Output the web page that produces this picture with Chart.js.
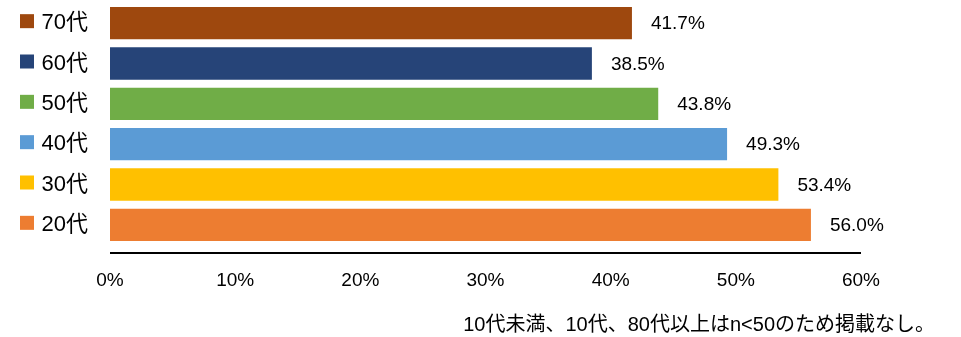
<!DOCTYPE html>
<html>
<head>
<meta charset="utf-8">
<script src="https://cdn.jsdelivr.net/npm/chart.js@4"></script>
<style>
  html, body { margin: 0; padding: 0; background: #fff; }
  #wrap { width: 961px; height: 337px; position: relative; }
</style>
</head>
<body>
<div id="wrap"><canvas id="chart"></canvas></div>
<script>
const ageGroups = ['70代', '60代', '50代', '40代', '30代', '20代'];
const rates = [41.7, 38.5, 43.8, 49.3, 53.4, 56.0];
const barColors = ['#9E480E', '#264478', '#70AD47', '#5B9BD5', '#FFC000', '#ED7D31'];
const xTicks = [0, 10, 20, 30, 40, 50, 60];
const note = '10代未満、10代、80代以上はn<50のため掲載なし。';

const FONT = '"Liberation Sans", Arial, "Noto Sans CJK JP", sans-serif';

// colored squares in front of the category labels
const squaresPlugin = {
  id: 'squares',
  afterDraw(chart) {
    const ctx = chart.ctx;
    const y = chart.scales.y;
    ageGroups.forEach((g, i) => {
      const cy = y.getPixelForValue(i);
      ctx.fillStyle = barColors[i];
      ctx.fillRect(20, cy - 9, 14, 14);
    });
  }
};

// value labels to the right of each bar
const valueLabels = {
  id: 'valueLabels',
  afterDatasetsDraw(chart) {
    const ctx = chart.ctx;
    const meta = chart.getDatasetMeta(0);
    ctx.save();
    ctx.font = '19px ' + FONT;
    ctx.fillStyle = '#000';
    ctx.textAlign = 'left';
    ctx.textBaseline = 'middle';
    meta.data.forEach((bar, i) => {
      ctx.fillText(rates[i].toFixed(1) + '%', bar.x + 19, bar.y + 1);
    });
    ctx.restore();
  }
};

// axis line just below the bars, and the footnote
const axisAndNote = {
  id: 'axisAndNote',
  afterDraw(chart) {
    const ctx = chart.ctx;
    const x = chart.scales.x;
    const area = chart.chartArea;
    ctx.save();
    ctx.strokeStyle = '#000';
    ctx.lineWidth = 2;
    ctx.beginPath();
    ctx.moveTo(x.getPixelForValue(0), area.bottom + 8);
    ctx.lineTo(x.getPixelForValue(60), area.bottom + 8);
    ctx.stroke();
    ctx.font = '20px ' + FONT;
    ctx.fillStyle = '#000';
    ctx.textAlign = 'right';
    ctx.textBaseline = 'middle';
    ctx.fillText(note, 935, 325);
    ctx.restore();
  }
};

new Chart(document.getElementById('chart'), {
  type: 'bar',
  data: {
    labels: ageGroups,
    datasets: [{
      data: rates,
      backgroundColor: barColors,
      borderWidth: 0,
      categoryPercentage: 0.8,
      barPercentage: 1.0
    }]
  },
  options: {
    indexAxis: 'y',
    responsive: true,
    maintainAspectRatio: false,
    animation: false,
    layout: { padding: { top: 3, left: 0, right: 100, bottom: 42 } },
    scales: {
      x: {
        min: 0,
        max: 60,
        afterBuildTicks: (scale) => { scale.ticks = xTicks.map((v) => ({ value: v })); },
        afterFit: (scale) => { scale.height = 50; scale.paddingLeft = 0; scale.paddingRight = 0; },
        grid: { display: false, drawTicks: false },
        border: { display: false },
        ticks: {
          padding: 24,
          color: '#000',
          font: { size: 19, family: FONT },
          callback: (v) => v + '%'
        }
      },
      y: {
        afterFit: (scale) => { scale.width = 110; scale.paddingTop = 0; scale.paddingBottom = 0; },
        grid: { display: false, drawTicks: false },
        border: { display: false },
        ticks: {
          padding: 22,
          color: '#000',
          font: { size: 22, family: FONT }
        }
      }
    },
    plugins: {
      legend: { display: false },
      tooltip: { enabled: false }
    }
  },
  plugins: [squaresPlugin, valueLabels, axisAndNote]
});
</script>
</body>
</html>
